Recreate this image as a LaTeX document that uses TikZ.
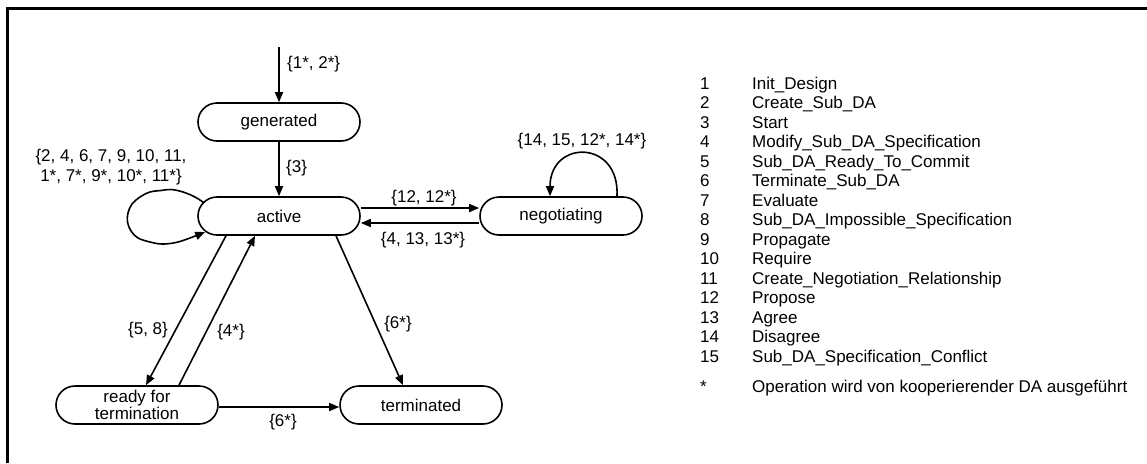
\documentclass[tikz,border=0pt]{standalone}
\usepackage{fontspec}
\setmainfont{Liberation Sans}
\usetikzlibrary{arrows.meta}
\begin{document}
\begin{tikzpicture}[x=1pt,y=-1pt,
  state/.style={draw, line width=1.6pt, rounded corners=19pt, minimum width=162pt, minimum height=38pt, inner sep=0pt, font=\fontsize{17}{18}\selectfont, align=center},
  arr/.style={-{Triangle[length=10pt,width=8pt]}, line width=1.6pt},
  lbl/.style={inner sep=0pt, font=\fontsize{17}{20}\selectfont, align=center}]
\useasboundingbox (0,0) rectangle (1147,463);
\fill[white] (0,0) rectangle (1147,463);
\draw[line width=3pt] (7.5,463) -- (7.5,8.3) -- (1147,8.3);

% states
\node[state] (gen) at (279,122) {generated};
\node[state] (act) at (279,216) {active};
\node[state] (neg) at (561,216) {negotiating};
\node[state] (rft) at (137,405) {ready for\\[-1pt]termination};
\node[state] (term) at (421,405) {terminated};

% initial transition
\coordinate (init) at (279,47);
\draw[arr] (init) -- (gen.north);
\node[lbl, anchor=west] (l0) at (287,64) {\{1*, 2*\}};

\draw[arr] (gen.south) -- (act.north);
\node[lbl, anchor=west] (l1) at (286,168) {\{3\}};

% active <-> negotiating
\draw[arr] ([yshift=8pt]act.east) -- ([yshift=8pt]neg.west);
\node[lbl] (l2) at (424,198) {\{12, 12*\}};
\draw[arr] ([yshift=-7pt]neg.west) -- ([yshift=-7pt]act.east);
\node[lbl] (l3) at (423,240) {\{4, 13, 13*\}};

% self loop negotiating
\draw[arr] ([xshift=56pt]neg.north) .. controls +(3,-57) and +(0,-57) .. ([xshift=-11pt]neg.north);
\node[lbl] (l4) at (582,141) {\{14, 15, 12*, 14*\}};

% self loop active (hand drawn)
\coordinate (ls) at ([shift={(7,-13)}]act.west);
\coordinate (le) at ([shift={(8,16)}]act.west);
\draw[arr] plot[smooth, tension=0.6] coordinates {(ls) (195,197) (183,192) (171,189.5) (161,190.5) (150,192) (140,197) (132,204) (128,213) (127.5,222) (131,231) (138,238) (150,242) (162,244) (176,242.5) (190,238) (le)};
\node[lbl] (l5) at (111,167) {\{2, 4, 6, 7, 9, 10, 11,\\1*, 7*, 9*, 10*, 11*\}};

% active <-> ready for termination
\draw[arr] ([xshift=-53pt]act.south) -- ([xshift=9pt]rft.north);
\node[lbl] (l6) at (148,330) {\{5, 8\}};
\draw[arr] ([xshift=42pt]rft.north) -- ([xshift=-24pt]act.south);
\node[lbl] (l7) at (231,332) {\{4*\}};

% active -> terminated
\draw[arr] ([xshift=57pt]act.south) -- ([xshift=-18pt]term.north);
\node[lbl] (l8) at (398,324) {\{6*\}};

% ready -> terminated
\draw[arr] ([yshift=-2pt]rft.east) -- ([yshift=-2pt]term.west);
\node[lbl] (l9) at (283,422) {\{6*\}};

% legend
\node[anchor=north west, inner sep=0pt, font=\fontsize{17}{19.5}\selectfont] (legend) at (700,75.4) {%
\begin{tabular}{@{}p{52pt}@{}l@{}}
1 & Init\_Design\\
2 & Create\_Sub\_DA\\
3 & Start\\
4 & Modify\_Sub\_DA\_Specification\\
5 & Sub\_DA\_Ready\_To\_Commit\\
6 & Terminate\_Sub\_DA\\
7 & Evaluate\\
8 & Sub\_DA\_Impossible\_Specification\\
9 & Propagate\\
10 & Require\\
11 & Create\_Negotiation\_Relationship\\
12 & Propose\\
13 & Agree\\
14 & Disagree\\
15 & Sub\_DA\_Specification\_Conflict
\end{tabular}};
\node[anchor=base west, inner sep=0pt, font=\fontsize{17}{19.5}\selectfont] (note) at (700,392) {\makebox[52pt][l]{*}Operation wird von kooperierender DA ausgeführt};
\end{tikzpicture}
\end{document}
